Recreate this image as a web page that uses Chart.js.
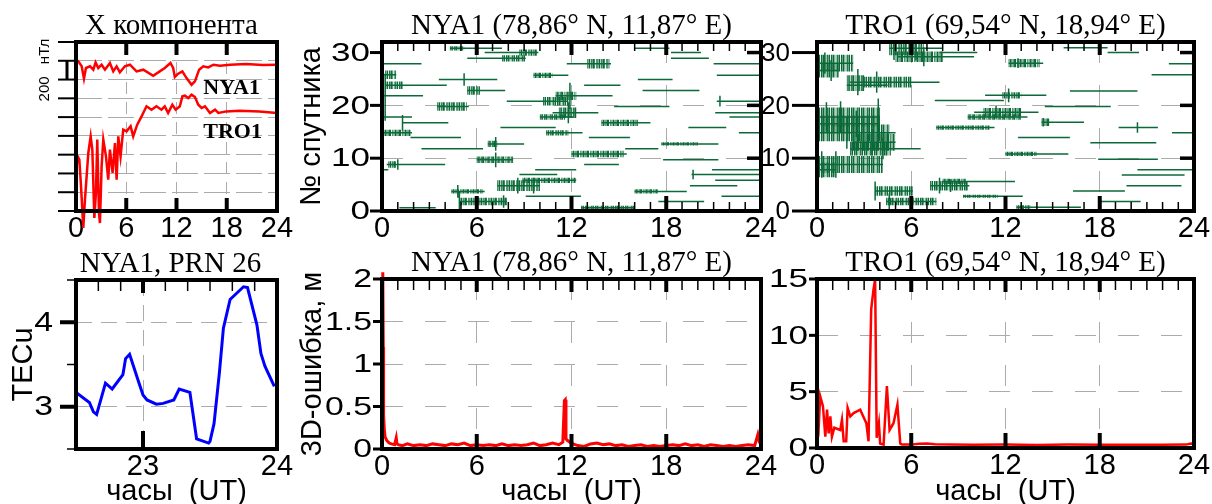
<!DOCTYPE html>
<html lang="ru">
<head>
<meta charset="UTF-8" />
<script src="https://cdn.jsdelivr.net/npm/chart.js@4.4.0/dist/chart.umd.min.js"></script>
<style>
  body { margin: 0; background: #fff; width: 1212px; height: 504px; position: relative; overflow: hidden; }
  canvas { position: absolute; }
</style>
</head>
<body>
<canvas id="xcomp" width="300" height="250" style="left:0;top:0"></canvas>
<canvas id="nyaSat" width="500" height="250" style="left:290px;top:0"></canvas>
<canvas id="troSat" width="452" height="250" style="left:760px;top:0"></canvas>
<canvas id="tec" width="300" height="264" style="left:0;top:240px"></canvas>
<canvas id="nyaErr" width="500" height="264" style="left:290px;top:240px"></canvas>
<canvas id="troErr" width="452" height="264" style="left:760px;top:240px"></canvas>

<script>
// X component of the magnetic field, nT (relative)
const nyaXHours = [0, 0.28, 0.68, 0.95, 1.19, 1.67, 2.07, 2.34, 2.66, 3.06, 3.46, 4.05, 4.45, 4.85, 5.24, 5.84, 6.44, 7.23, 8.03, 9.22, 10.0, 10.6, 11.28, 11.6, 11.8, 12.2, 12.7, 13.2, 13.8, 14.2, 14.7, 15.2, 15.8, 16.4, 17.2, 18.4, 20.3, 22.3, 24];
const nyaXValues = [1612, 1594, 1541, 1409, 1523, 1541, 1505, 1583, 1523, 1558, 1505, 1576, 1487, 1541, 1477, 1541, 1558, 1487, 1505, 1441, 1487, 1523, 1576, 1523, 1427, 1463, 1487, 1416, 1345, 1381, 1505, 1541, 1530, 1558, 1548, 1558, 1566, 1555, 1558];
const troXHours = [0, 0.2, 0.4, 0.6, 0.87, 1.07, 1.27, 1.47, 1.75, 1.95, 2.19, 2.38, 2.54, 2.74, 2.86, 3.06, 3.26, 3.58, 3.85, 4.05, 4.37, 4.65, 4.85, 5.05, 5.32, 5.64, 6.04, 6.52, 6.83, 7.31, 7.83, 8.42, 9.02, 9.6, 10.2, 10.6, 11.0, 11.5, 11.9, 12.4, 12.7, 13.0, 13.4, 13.8, 14.2, 14.6, 15.0, 15.4, 16.0, 16.6, 17.0, 17.96, 19.5, 21.9, 24];
const troXValues = [405, 582, 547, 263, -181, 121, 369, 618, 795, 653, -75, 192, 760, -21, -128, 476, 760, 582, 334, 653, 405, 724, 334, 795, 582, 866, 848, 902, 795, 919, 1008, 1115, 1079, 1115, 1079, 1115, 1044, 1132, 1079, 1115, 1221, 1228, 1203, 1239, 1214, 1132, 1097, 1115, 1044, 1079, 1044, 1061, 1069, 1061, 1044];

// satellite passes: [level, start hour, end hour]
const nyaPasses = [
  [30.8, 4.3, 7.6], [30.0, 6.5, 9.9], [28.9, 5.4, 9.1], [27.9, 0.1, 2.5], [27.9, 11.7, 14.5],
  [25.8, 0.1, 0.9], [25.7, 9.6, 11.8], [24.9, 3.6, 7.3], [23.8, 0.2, 4.1], [23.8, 12.8, 15.1],
  [22.8, 5.4, 7.8], [21.8, 0.1, 2.6], [21.8, 11.0, 14.6], [20.8, 7.9, 11.8], [19.8, 3.5, 5.5],
  [18.6, 10.8, 13.7], [17.8, 0.1, 1.9], [17.8, 10.0, 12.1], [16.7, 1.3, 4.2], [16.7, 13.9, 17.0],
  [15.8, 7.5, 11.0], [14.8, 0.0, 1.9], [14.8, 10.4, 12.7], [13.9, 1.8, 5.0], [13.9, 13.1, 15.7],
  [12.7, 6.7, 9.0], [12.7, 17.7, 21.3], [11.8, 2.5, 6.4], [11.8, 15.4, 17.5], [10.8, 12.0, 15.5],
  [9.7, 6.0, 8.3], [9.7, 17.8, 21.3], [8.8, 0.3, 4.0], [8.8, 12.8, 15.0], [7.8, 0.0, 0.4],
  [7.8, 9.7, 12.3], [7.8, 20.9, 24], [6.9, 8.7, 11.1], [6.9, 19.6, 24], [5.8, 8.9, 12.3],
  [5.8, 21.1, 24], [4.8, 7.3, 10.0], [4.8, 19.5, 22.5], [3.7, 4.4, 6.5], [3.7, 16.0, 19.3],
  [2.8, 9.1, 12.6], [2.8, 21.5, 24], [1.8, 4.9, 7.9], [1.8, 17.5, 20.4], [0.6, 1.1, 3.4],
  [0.6, 12.6, 16.0], [30.8, 16.0, 18.2], [30.0, 18.3, 20.2], [28.9, 18.3, 20.7], [24.9, 16.2, 18.4],
  [22.8, 16.5, 20.1], [19.8, 14.7, 18.2], [15.8, 19.4, 21.8], [27.9, 21.0, 24], [25.7, 21.2, 24],
  [20.8, 21.2, 24], [18.6, 21.1, 24], [17.8, 22.0, 24], [14.8, 22.6, 24]
];
// noisy parts of a pass: [level, start, end, half amplitude]
const nyaBursts = [
  [30.8, 4.3, 5.2, 0.4], [30.0, 8.7, 9.8, 0.6], [28.9, 7.6, 9.1, 0.6], [27.9, 13.0, 14.4, 0.9],
  [25.7, 9.6, 10.8, 0.5], [25.8, 0.2, 0.9, 0.8], [23.8, 0.2, 1.3, 0.7], [22.8, 5.4, 6.2, 0.8],
  [21.8, 11.0, 12.3, 0.8], [20.8, 10.2, 11.8, 0.8], [19.8, 3.5, 5.4, 0.8], [18.6, 11.2, 12.3, 1.0],
  [17.8, 10.0, 11.6, 0.5], [16.7, 13.9, 16.2, 0.6], [14.8, 0.1, 1.8, 0.6], [14.8, 10.4, 11.8, 0.5],
  [12.7, 6.7, 7.3, 0.6], [10.8, 12.0, 15.3, 0.6], [9.7, 6.0, 8.3, 0.6], [8.8, 0.4, 1.0, 0.6],
  [5.8, 8.9, 12.3, 0.5], [4.8, 7.3, 10.0, 1.0], [3.7, 4.4, 6.4, 0.4], [1.8, 4.9, 7.9, 0.7],
  [0.6, 12.6, 16.0, 0.4], [12.7, 17.7, 20.0, 0.3], [3.7, 16.0, 17.5, 0.4]
];
// single tall spikes: [level, hour, half amplitude]
const nyaSpikes = [
  [24.9, 5.2, 1.2], [16.7, 1.3, 1.5], [21.8, 11.9, 2.5], [18.6, 11.8, 2.0], [12.7, 7.2, 1.3],
  [9.7, 7.2, 1.4], [4.8, 8.6, 1.5], [4.8, 9.6, 1.5], [1.8, 4.9, 1.8], [1.8, 7.7, 1.2],
  [3.7, 4.8, 1.2], [8.8, 1.0, 1.0], [20.8, 21.4, 1.0], [23.8, 0.2, 2.2], [21.8, 0.2, 2.0],
  [18.6, 0.2, 1.5], [6.9, 19.7, 0.9]
];

const troPasses = [
  [30.8, 4.6, 8.0], [30.0, 7.8, 10.2], [29.2, 5.1, 10.0], [28.0, 0.0, 2.3], [28.0, 12.2, 14.4],
  [26.6, 0.0, 1.4], [24.4, 2.1, 7.8], [23.8, 1.9, 4.5], [21.9, 10.7, 14.6], [20.9, 7.5, 11.9],
  [19.8, 14.5, 18.7], [18.7, 10.0, 14.1], [17.8, 0.0, 4.0], [17.8, 9.6, 13.4], [16.5, 0.0, 4.0],
  [16.8, 14.3, 17.0], [15.8, 7.6, 11.3], [15.8, 19.2, 21.7], [14.8, 0.0, 5.0], [14.8, 22.6, 24],
  [13.9, 12.8, 16.1], [13.0, 2.3, 5.0], [12.9, 17.4, 21.6], [11.8, 2.1, 6.6], [10.8, 12.0, 16.0],
  [9.8, 17.9, 21.7], [8.8, 0.0, 4.2], [7.8, 0.0, 1.2], [7.8, 20.4, 24], [6.8, 19.4, 23.4],
  [5.6, 8.0, 12.6], [4.8, 7.2, 9.7], [4.8, 19.7, 23.2], [3.8, 3.7, 6.1], [3.8, 16.3, 19.6],
  [2.8, 9.3, 13.1], [1.8, 4.4, 7.6], [1.8, 17.9, 20.6], [0.7, 12.7, 16.8], [30.9, 15.7, 18.5],
  [30.0, 18.5, 20.5], [27.9, 22.4, 24], [25.8, 21.3, 24], [22.7, 16.1, 20.4]
];
const troBursts = [
  [28.0, 0.0, 2.3, 1.6], [26.6, 0.0, 1.4, 1.3], [24.2, 1.9, 3.0, 1.5], [24.4, 3.0, 6.0, 1.0],
  [17.8, 0.0, 4.0, 1.8], [16.5, 0.0, 4.0, 1.6], [14.8, 0.0, 4.6, 1.6], [13.0, 2.2, 5.0, 1.6],
  [11.8, 2.1, 4.7, 1.3], [8.8, 0.0, 4.2, 1.6], [7.8, 0.0, 1.2, 1.4], [30.8, 4.6, 6.8, 1.3],
  [29.2, 5.0, 8.0, 1.0], [3.8, 3.7, 6.1, 0.9], [1.8, 4.4, 7.6, 0.7], [4.8, 7.2, 9.6, 0.9],
  [5.6, 8.0, 9.5, 0.5], [28.0, 12.2, 14.2, 0.8], [21.9, 11.8, 13.0, 0.6], [18.7, 10.6, 13.0, 0.8],
  [17.8, 9.6, 13.0, 0.5], [16.8, 14.3, 14.8, 0.7], [15.8, 7.6, 11.0, 0.4], [10.8, 12.0, 14.0, 0.4],
  [0.7, 12.7, 13.6, 0.4], [2.8, 9.3, 11.5, 0.3]
];
const troSpikes = [
  [30.8, 4.9, 2.2], [30.8, 6.3, 2.3], [29.2, 6.8, 1.8], [28.0, 0.5, 2.0], [26.6, 0.9, 2.0],
  [24.4, 2.6, 2.5], [17.8, 0.6, 2.8], [17.8, 1.5, 3.0], [17.8, 3.9, 3.5], [16.5, 2.5, 2.5],
  [14.8, 1.9, 3.0], [13.0, 3.5, 2.5], [8.8, 0.3, 2.5], [8.8, 1.2, 2.5], [3.8, 3.7, 1.8],
  [1.8, 4.6, 1.5], [4.8, 7.8, 1.5], [15.8, 20.4, 1.0], [21.9, 12.2, 1.3], [18.7, 11.4, 1.2],
  [16.8, 14.4, 0.8], [28.0, 12.8, 0.9], [4.8, 8.5, 1.2], [11.8, 4.2, 2.0], [24.4, 3.8, 2.0]
];

// TEC along PRN 26 at NYA1
const tecHours = [22.5, 22.6, 22.63, 22.654, 22.72, 22.77, 22.85, 22.87, 22.9, 22.97, 23.0, 23.03, 23.1, 23.15, 23.23, 23.27, 23.35, 23.38, 23.4, 23.49, 23.5, 23.53, 23.57, 23.6, 23.65, 23.75, 23.78, 23.85, 23.88, 23.91, 23.98];
const tecValues = [3.17, 3.05, 2.94, 2.91, 3.28, 3.21, 3.38, 3.57, 3.62, 3.28, 3.14, 3.08, 3.03, 3.04, 3.08, 3.21, 3.17, 2.84, 2.62, 2.57, 2.59, 2.8, 3.4, 3.93, 4.27, 4.42, 4.41, 3.97, 3.63, 3.48, 3.24];

// 3D positioning error, m
const nyaErrHours = [0, 0.05, 0.08, 0.1, 0.15, 0.2, 0.3, 0.45, 0.6, 0.8, 0.9, 0.95, 1.05, 1.3, 1.6, 2.0, 2.4, 2.8, 3.2, 3.6, 4.0, 4.4, 4.8, 5.2, 5.6, 6.0, 6.4, 6.8, 7.2, 7.6, 8.0, 8.4, 8.8, 9.2, 9.6, 10.0, 10.4, 10.8, 11.2, 11.45, 11.55, 11.6, 11.65, 11.75, 11.9, 12.1, 12.4, 12.8, 13.2, 13.6, 14.0, 14.4, 14.8, 15.2, 15.6, 16.0, 16.4, 16.8, 17.2, 17.6, 18.0, 18.4, 18.8, 19.2, 19.6, 20.0, 20.4, 20.8, 21.2, 21.6, 22.0, 22.4, 22.8, 23.2, 23.6, 23.8, 23.9, 24];
const nyaErrValues = [1.45, 2.08, 1.2, 0.4, 0.22, 0.14, 0.1, 0.07, 0.06, 0.05, 0.13, 0.06, 0.05, 0.04, 0.06, 0.04, 0.05, 0.04, 0.06, 0.05, 0.04, 0.06, 0.05, 0.07, 0.04, 0.05, 0.04, 0.05, 0.04, 0.06, 0.04, 0.05, 0.04, 0.05, 0.07, 0.04, 0.05, 0.07, 0.05, 0.08, 0.57, 0.58, 0.12, 0.1, 0.08, 0.06, 0.04, 0.03, 0.06, 0.07, 0.05, 0.06, 0.04, 0.05, 0.03, 0.04, 0.05, 0.03, 0.04, 0.03, 0.04, 0.05, 0.04, 0.06, 0.04, 0.05, 0.03, 0.05, 0.04, 0.03, 0.04, 0.03, 0.04, 0.05, 0.04, 0.17, 0.08, 0.06];
const troErrHours = [0, 0.1, 0.2, 0.38, 0.53, 0.64, 0.74, 0.85, 0.95, 1.1, 1.48, 1.59, 1.7, 1.86, 1.95, 2.12, 2.33, 2.75, 3.14, 3.28, 3.45, 3.6, 3.7, 3.8, 3.94, 4.02, 4.24, 4.45, 4.62, 4.87, 5.12, 5.3, 5.4, 5.6, 6.0, 6.5, 7.0, 7.5, 8.5, 10.0, 12.0, 14.0, 16.0, 18.0, 20.0, 22.0, 23.5, 23.8, 24];
const troErrValues = [2.07, 1.6, 4.6, 3.7, 1.0, 3.4, 1.3, 2.8, 1.0, 1.8, 1.6, 2.5, 0.6, 0.6, 3.55, 2.8, 3.1, 3.4, 2.2, 0.6, 12.3, 14.1, 15.0, 0.9, 2.2, 0.4, 0.3, 5.5, 1.6, 2.2, 3.85, 0.4, 0.3, 0.3, 0.3, 0.38, 0.4, 0.33, 0.3, 0.28, 0.3, 0.27, 0.3, 0.28, 0.29, 0.28, 0.3, 0.4, 0.35];

const red = '#ff0000';
const green = '#0b6a38';
const blue = '#0000ff';
const serif = 'Liberation Serif';
const sans = 'Liberation Sans';

Chart.defaults.font.family = sans;
Chart.defaults.color = '#000';

function zipXY(xs, ys) {
  return xs.map((x, i) => ({ x: x, y: ys[i] }));
}

function curve(xs, ys, color, width, clip) {
  return { data: zipXY(xs, ys), borderColor: color, borderWidth: width, showLine: true, pointRadius: 0, clip: clip };
}

// every pass becomes a separate segment of one dataset
function passLines(list) {
  const pts = [];
  list.forEach(([p, t0, t1]) => { pts.push({ x: t0, y: p }, { x: t1, y: p }, { x: t1, y: null }); });
  return { data: pts, borderColor: green, borderWidth: 1.5, showLine: true, pointRadius: 0, spanGaps: false };
}

function spikeLines(list) {
  const pts = [];
  list.forEach(([p, t, a]) => { pts.push({ x: t, y: p - a }, { x: t, y: p + a }, { x: t, y: null }); });
  return { data: pts, borderColor: green, borderWidth: 1.5, showLine: true, pointRadius: 0, spanGaps: false };
}

// a burst is a thick stroke broken into uneven dashes; its width follows the y scale
function burstLines(list) {
  return list.map(([p, t0, t1, a]) => ({
    data: [{ x: t0, y: p }, { x: t1, y: p }],
    borderColor: green,
    borderDash: [0.9, 0.5, 1.6, 0.9, 1.1, 0.4, 2.1, 1.2, 0.7, 0.6],
    borderCapStyle: 'butt',
    borderWidth: c => {
      const s = c.chart.scales.y;
      return s && s.height ? 2 * a * s.height / (s.max - s.min) : 1;
    },
    showLine: true,
    pointRadius: 0
  }));
}

function range(from, to, step) {
  const out = [];
  for (let v = from; v <= to + 1e-9; v += step) out.push(+v.toFixed(4));
  return out;
}

function gridColor(list) {
  return c => list.includes(c.tick && c.tick.value) ? '#ababab' : 'rgba(0,0,0,0)';
}

function xAxis(min, max, ticksAt, gridAt, height, dash, title) {
  return {
    type: 'linear', min: min, max: max,
    afterBuildTicks: s => { s.ticks = ticksAt.map(v => ({ value: v })); },
    afterFit: s => { s.height = height; },
    ticks: { font: { size: 29 }, padding: 1, maxRotation: 0, autoSkip: false },
    grid: { drawTicks: false, lineWidth: 1, color: gridColor(gridAt) },
    border: { display: false, dash: dash },
    title: title ? { display: true, text: title, font: { size: 29, lineHeight: 0.8 }, padding: 0 } : { display: false }
  };
}

// y tick labels are painted by panelDecor (they are wider than the x ones)
function yAxis(min, max, gridAt, width, dash, title, titlePad) {
  return {
    type: 'linear', min: min, max: max,
    afterBuildTicks: s => { s.ticks = gridAt.map(v => ({ value: v })); },
    afterFit: s => { s.width = width; },
    ticks: { display: false },
    grid: { drawTicks: false, lineWidth: 1, color: gridColor(gridAt) },
    border: { display: false, dash: dash },
    title: title ? { display: true, text: title, font: { size: 29 }, padding: { top: titlePad, bottom: 0 } } : { display: false }
  };
}

// frame, inner/outer tick marks, y labels, panel title and free labels
const panelDecor = {
  id: 'panelDecor',
  afterDatasetsDraw(chart, args, o) {
    const { ctx, chartArea: a } = chart;
    const x = chart.scales.x, y = chart.scales.y;
    ctx.save();
    ctx.strokeStyle = '#000';
    ctx.fillStyle = '#000';
    ctx.lineCap = 'butt';
    const seg = (x1, y1, x2, y2, w) => {
      ctx.lineWidth = w;
      ctx.beginPath(); ctx.moveTo(x1, y1); ctx.lineTo(x2, y2); ctx.stroke();
    };
    (o.xMinor || []).forEach(v => {
      const px = x.getPixelForValue(v);
      if (o.xMinorTop) seg(px, a.top, px, a.top + o.xMinorTop, 1.5);
      if (o.xMinorBottom) seg(px, a.bottom, px, a.bottom - o.xMinorBottom, 1.5);
    });
    (o.xMajor || []).forEach(v => {
      const px = x.getPixelForValue(v);
      seg(px, a.top, px, a.top + o.xMajorTop, 4);
      seg(px, a.bottom, px, a.bottom - o.xMajorBottom, 4);
    });
    (o.yMinor || []).forEach(v => {
      const py = y.getPixelForValue(v);
      seg(a.left - o.yMinorLen, py, a.left, py, 1.5);
    });
    (o.yMajor || []).forEach(v => {
      const py = y.getPixelForValue(v);
      seg(a.left - o.yMajorLen, py, a.left, py, o.yMajorWidth);
    });
    (o.yRight || []).forEach(v => {
      const py = y.getPixelForValue(v);
      seg(a.right, py, a.right - o.yRightLen, py, 3.5);
    });
    if (o.bar) {
      seg(a.left - 9, y.getPixelForValue(o.bar[0]), a.left - 9, y.getPixelForValue(o.bar[1]), 3);
    }
    ctx.lineWidth = 4;
    ctx.strokeRect(a.left, a.top, a.right - a.left, a.bottom - a.top);

    ctx.textBaseline = 'middle';
    (o.yLabels || []).forEach(v => {
      ctx.save();
      ctx.translate(a.left - o.yLabelPad, y.getPixelForValue(v));
      ctx.scale(o.yStretch || 1, 1);
      ctx.textAlign = 'right';
      ctx.font = (o.yFont || 26) + 'px "' + sans + '"';
      ctx.fillText(String(v), 0, 1);
      ctx.restore();
    });

    ctx.textAlign = 'center';
    ctx.font = '29px "' + serif + '"';
    ctx.fillText(o.title, (a.left + a.right) / 2 + (o.titleDx || 0), a.top - 16);

    (o.rotated || []).forEach(r => {
      ctx.save();
      ctx.translate(a.left - 31, y.getPixelForValue(r.at));
      ctx.rotate(-Math.PI / 2);
      ctx.font = '15px "' + sans + '"';
      ctx.fillText(r.text, 0, 0);
      ctx.restore();
    });
    (o.labels || []).forEach(l => {
      ctx.textAlign = 'left';
      ctx.font = 'bold 22px "' + serif + '"';
      ctx.fillText(l.text, x.getPixelForValue(l.x), y.getPixelForValue(l.y));
    });
    ctx.restore();
  }
};

function makePanel(id, pad, datasets, scales, decor) {
  return new Chart(document.getElementById(id), {
    type: 'scatter',
    data: { datasets: datasets },
    options: {
      responsive: false,
      animation: false,
      devicePixelRatio: 1,
      layout: { padding: { top: pad[0], right: pad[1], bottom: 0, left: 0 } },
      elements: { line: { tension: 0 }, point: { radius: 0 } },
      plugins: { legend: { display: false }, tooltip: { enabled: false }, title: { display: false }, panelDecor: decor },
      scales: scales
    },
    plugins: [panelDecor]
  });
}

const hourTicks = [0, 6, 12, 18, 24];
const hourGrid = [6, 12, 18];
const hourMinor = range(1, 23, 1);
const gridDash = [21, 22];

// X component, both stations
makePanel('xcomp', [42, 23],
  [curve(nyaXHours, nyaXValues, red, 2.5, false), curve(troXHours, troXValues, red, 2.5, false)],
  {
    x: xAxis(0, 24, hourTicks, hourGrid, 39, [12, 8]),
    y: yAxis(0, 1800, range(200, 1600, 200), 76, [26, 6])
  },
  {
    title: 'X компонента', titleDx: -5,
    xMajor: hourGrid, xMajorTop: 13, xMajorBottom: 13,
    yMajor: range(0, 1800, 200), yMajorLen: 18, yMajorWidth: 2,
    bar: [1400, 1600],
    rotated: [{ text: '200', at: 1300 }, { text: 'нТл', at: 1700 }],
    labels: [{ text: 'NYA1', x: 15.2, y: 1310 }, { text: 'TRO1', x: 15.2, y: 841 }]
  });

// satellite tracks, NYA1
makePanel('nyaSat', [42, 29],
  [passLines(nyaPasses), ...burstLines(nyaBursts), spikeLines(nyaSpikes)],
  {
    x: xAxis(0, 24, hourTicks, hourGrid, 39, gridDash),
    y: yAxis(0, 32, [10, 20], 92, gridDash, '№ спутника', 5)
  },
  {
    title: 'NYA1 (78,86° N, 11,87° E)',
    xMajor: hourGrid, xMajorTop: 13, xMajorBottom: 15,
    xMinor: hourMinor, xMinorTop: 9, xMinorBottom: 9,
    yMajor: [0, 10, 20, 30], yMajorLen: 12, yMajorWidth: 3,
    yRight: [10, 20, 30], yRightLen: 14,
    yLabels: [0, 10, 20, 30], yLabelPad: 12, yStretch: 1.35, yFont: 26
  });

// satellite tracks, TRO1
makePanel('troSat', [42, 18],
  [passLines(troPasses), ...burstLines(troBursts), spikeLines(troSpikes)],
  {
    x: xAxis(0, 24, hourTicks, hourGrid, 39, gridDash),
    y: yAxis(0, 32, [10, 20], 57, gridDash)
  },
  {
    title: 'TRO1 (69,54° N, 18,94° E)',
    xMajor: hourGrid, xMajorTop: 13, xMajorBottom: 15,
    xMinor: hourMinor, xMinorTop: 9, xMinorBottom: 9,
    yMajor: [0, 10, 20, 30], yMajorLen: 25, yMajorWidth: 3,
    yRight: [10, 20, 30], yRightLen: 14,
    yLabels: [0, 10, 20, 30], yLabelPad: 27, yStretch: 1.0, yFont: 26
  });

// TEC, NYA1 PRN 26
makePanel('tec', [40, 23],
  [curve(tecHours, tecValues, blue, 3)],
  {
    x: xAxis(22.5, 24, [23, 24], [23], 55, [16, 9], 'часы  (UT)'),
    y: yAxis(2.5, 4.5, [3, 4], 76, [16, 9], 'TECu', 7)
  },
  {
    title: 'NYA1, PRN 26', titleDx: -6,
    xMajor: [23], xMajorTop: 13, xMajorBottom: 18,
    xMinor: range(22.5 + 1 / 6, 24 - 1 / 6, 1 / 6), xMinorTop: 11,
    yMajor: [3, 4], yMajorLen: 16, yMajorWidth: 4,
    yMinor: [2.5, 3.5, 4.5], yMinorLen: 9,
    yLabels: [3, 4], yLabelPad: 23, yStretch: 1.25, yFont: 27
  });

// 3D error, NYA1
makePanel('nyaErr', [39, 29],
  [curve(nyaErrHours, nyaErrValues, red, 3, false)],
  {
    x: xAxis(0, 24, hourTicks, hourGrid, 55, gridDash, 'часы  (UT)'),
    y: yAxis(0, 2, [0.5, 1, 1.5], 92, gridDash, '3D-ошибка, м', 6)
  },
  {
    title: 'NYA1 (78,86° N, 11,87° E)',
    xMajor: hourGrid, xMajorTop: 13, xMajorBottom: 15,
    xMinor: hourMinor, xMinorTop: 11,
    yMajor: [0, 0.5, 1, 1.5, 2], yMajorLen: 9, yMajorWidth: 3,
    yLabels: [0, 0.5, 1, 1.5, 2], yLabelPad: 10, yStretch: 1.3, yFont: 26
  });

// 3D error, TRO1
makePanel('troErr', [39, 18],
  [curve(troErrHours, troErrValues, red, 2.5)],
  {
    x: xAxis(0, 24, hourTicks, hourGrid, 56, gridDash, 'часы  (UT)'),
    y: yAxis(0, 15, [5, 10], 57, gridDash)
  },
  {
    title: 'TRO1 (69,54° N, 18,94° E)',
    xMajor: hourGrid, xMajorTop: 13, xMajorBottom: 15,
    xMinor: hourMinor, xMinorTop: 11,
    yMajor: [0, 5, 10, 15], yMajorLen: 8, yMajorWidth: 3,
    yLabels: [0, 5, 10, 15], yLabelPad: 9, yStretch: 1.35, yFont: 26
  });
</script>
</body>
</html>
